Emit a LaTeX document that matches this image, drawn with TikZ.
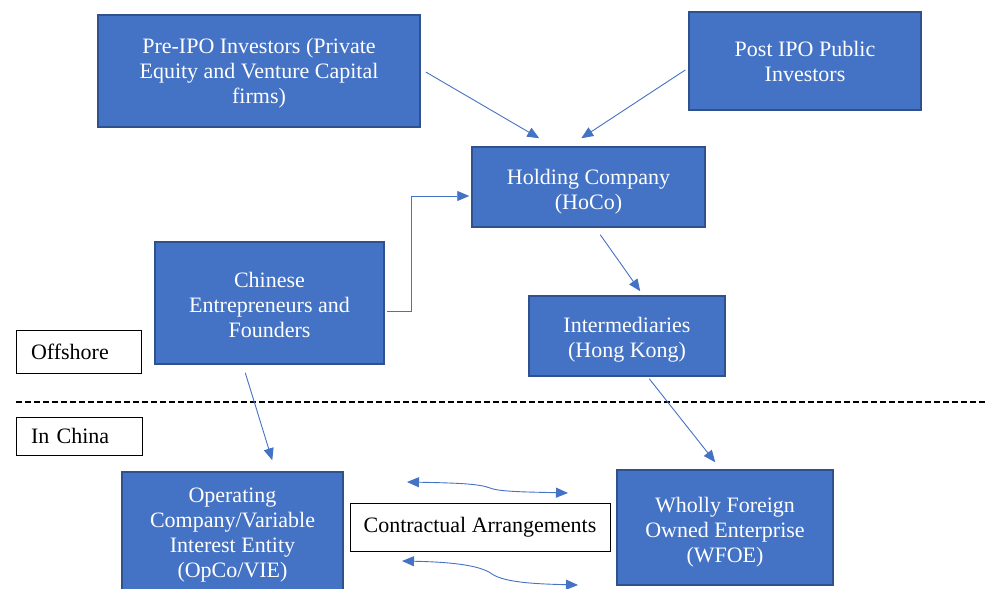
\documentclass[tikz,border=0pt]{standalone}
\usepackage{fontspec}
\setmainfont{Liberation Serif}
\usetikzlibrary{arrows.meta}
\definecolor{boxfill}{HTML}{4472C4}
\definecolor{boxline}{HTML}{2F528F}
\definecolor{arrcol}{HTML}{4472C4}
\newcommand{\lowerby}[1]{\rule{0pt}{#1}}
\tikzset{
  bluebox/.style={draw=boxline, line width=1.5pt, fill=boxfill, text=white, align=center, inner sep=2pt,
    font=\fontsize{22}{25}\selectfont},
  labelbox/.style={draw=black, line width=0.9pt, fill=white, text=black, inner sep=0pt,
    font=\fontsize{22}{25}\selectfont},
  arr/.style={draw=arrcol, line width=0.9pt, -{Triangle[length=12pt,width=10pt]}},
  darr/.style={draw=arrcol, line width=0.9pt, {Triangle[length=12pt,width=10pt]}-{Triangle[length=12pt,width=10pt]}}
}
\begin{document}
\begin{tikzpicture}[x=1pt,y=-1pt]
\useasboundingbox (0,0) rectangle (986,589);
\begin{scope}
\clip (0,0) rectangle (986,589);
\node[bluebox, minimum width=322pt, minimum height=112pt] (pre) at (259,71) {\lowerby{20pt}Pre-IPO Investors (Private\\Equity and Venture Capital\\firms)};
\node[bluebox, minimum width=232pt, minimum height=98pt] (post) at (805,61) {Post IPO Public\\Investors};
\node[bluebox, minimum width=233pt, minimum height=80pt] (hoco) at (588.5,187) {\lowerby{25pt}Holding Company\\(HoCo)};
\node[bluebox, minimum width=229pt, minimum height=122pt] (chin) at (269.5,303) {\lowerby{19pt}Chinese\\Entrepreneurs and\\Founders};
\node[bluebox, minimum width=196pt, minimum height=80pt] (inter) at (627,336) {\lowerby{23pt}Intermediaries\\(Hong Kong)};
\node[labelbox, minimum width=125pt, minimum height=43pt, text width=95pt, align=left] (off) at (78.5,351.5) {Offshore};
\node[labelbox, minimum width=126pt, minimum height=38pt, text width=96pt, align=left] (china) at (79,436) {In China};
\node[bluebox, minimum width=221pt, minimum height=124pt] (opco) at (232.5,534) {\lowerby{16pt}Operating\\Company/Variable\\Interest Entity\\(OpCo/VIE)};
\node[bluebox, minimum width=216pt, minimum height=115pt] (wfoe) at (725,527.5) {\lowerby{25pt}Wholly Foreign\\Owned Enterprise\\(WFOE)};
\node[labelbox, minimum width=260pt, minimum height=48pt] (contr) at (480,527) {Contractual Arrangements};

\draw[black, line width=1.1pt, dash pattern=on 6pt off 3pt] (16,402) -- (986,402);

\draw[arr] ([xshift=5pt,yshift=-1pt]pre.east) -- ([xshift=68pt,yshift=8pt]hoco.north west);
\draw[arr] ([xshift=-3pt,yshift=-9pt]post.west) -- ([xshift=110pt,yshift=8pt]hoco.north west);
\draw[arr] ([xshift=2pt,yshift=-8pt]chin.east) -- ++(25,0) |- ([xshift=-2pt,yshift=-9pt]hoco.west);
\draw[arr] ([xshift=129pt,yshift=-7pt]hoco.south west) -- ([xshift=112pt,yshift=4pt]inter.north west);
\draw[arr] ([xshift=121pt,yshift=-2pt]inter.south west) -- ([xshift=99pt,yshift=7pt]wfoe.north west);
\draw[arr] ([xshift=91pt,yshift=-8pt]chin.south west) -- ([xshift=151pt,yshift=11pt]opco.north west);

\coordinate (t1) at (407,482);
\coordinate (t2) at (568,493);
\coordinate (b1) at (402,561);
\coordinate (b2) at (578,585);
\draw[darr] (t1) .. controls (460,483) and (480,484) .. (490,488) .. controls (500,492) and (530,492) .. (t2);
\draw[darr] (b1) .. controls (450,562) and (480,565) .. (492,574) .. controls (505,583) and (540,584) .. (b2);
\end{scope}
\end{tikzpicture}
\end{document}
